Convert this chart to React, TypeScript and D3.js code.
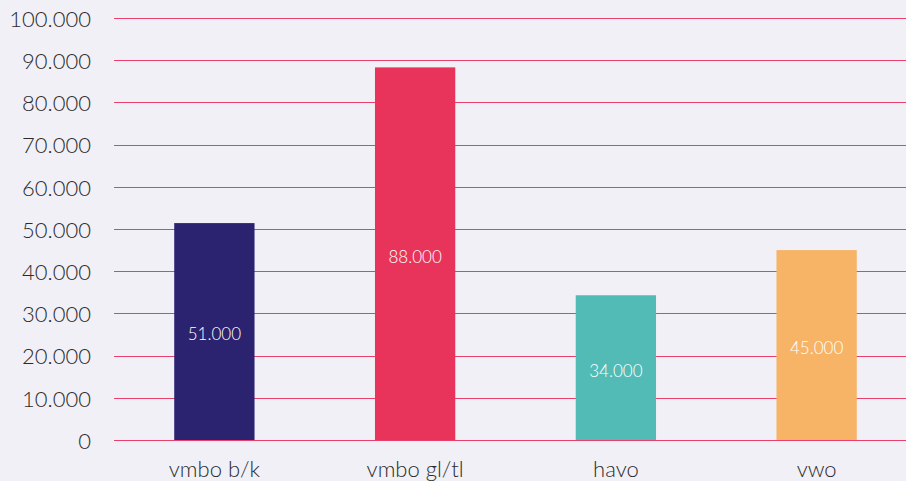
import React from "react";
import * as d3 from "d3";

const WIDTH = 906;
const HEIGHT = 481;

const categories = ["vmbo b/k", "vmbo gl/tl", "havo", "vwo"];
const values = [51400, 88300, 34300, 45000];
const valueLabels = ["51.000", "88.000", "34.000", "45.000"];
const colors = ["#2b2270", "#e8345a", "#52bbb5", "#f7b366"];
const yTicks = [0, 10000, 20000, 30000, 40000, 50000, 60000, 70000, 80000, 90000, 100000];

const FONT = "Lato, 'Open Sans', sans-serif";

function App() {
  const margin = { top: 18, right: -11, bottom: 41, left: 114 };

  const x = d3
    .scaleBand<string>()
    .domain(categories)
    .range([margin.left, WIDTH - margin.right])
    .paddingInner(0.6)
    .paddingOuter(0.3);

  const y = d3
    .scaleLinear()
    .domain([0, 100000])
    .range([HEIGHT - margin.bottom, margin.top]);

  const fmt = (v: number) => (v === 0 ? "0" : d3.format(",")(v).replace(/,/g, "."));

  return (
    <svg
      width={WIDTH}
      height={HEIGHT}
      style={{ position: "absolute", top: 0, left: 0, background: "#f1f0f6" }}
    >
      <rect x={0} y={0} width={WIDTH} height={HEIGHT} fill="#f1f0f6" />
      {/* grid + y labels */}
      <g className="y-axis">
        {yTicks.map((t) => (
          <g key={t}>
            <line
              x1={margin.left}
              x2={WIDTH}
              y1={Math.round(y(t)) + 0.5}
              y2={Math.round(y(t)) + 0.5}
              stroke="#e8406a"
              strokeWidth={1}
            />
            <text
              x={91}
              y={y(t) + 1}
              dy="0.35em"
              textAnchor="end"
              fontFamily={FONT}
              fontWeight={300}
              fontSize={22}
              fill="#2b2b2b"
            >
              {fmt(t)}
            </text>
          </g>
        ))}
      </g>
      {/* bars */}
      <g className="content">
        {categories.map((c, i) => (
          <g key={c}>
            <rect
              x={x(c)}
              y={y(values[i])}
              width={x.bandwidth()}
              height={y(0) - y(values[i])}
              fill={colors[i]}
            />
            <text
              x={(x(c) as number) + x.bandwidth() / 2}
              y={(y(values[i]) + y(0)) / 2 + 3}
              dy="0.35em"
              textAnchor="middle"
              fontFamily={FONT}
              fontWeight={300}
              fontSize={17}
              fill="#ffffff"
            >
              {valueLabels[i]}
            </text>
          </g>
        ))}
      </g>
      {/* x labels */}
      <g className="x-axis">
        {categories.map((c) => (
          <text
            key={c}
            x={(x(c) as number) + x.bandwidth() / 2}
            y={469}
            dy="0.35em"
            textAnchor="middle"
            fontFamily={FONT}
            fontWeight={300}
            fontSize={22}
            fill="#2b2b2b"
          >
            {c}
          </text>
        ))}
      </g>
    </svg>
  );
}

export default App;
